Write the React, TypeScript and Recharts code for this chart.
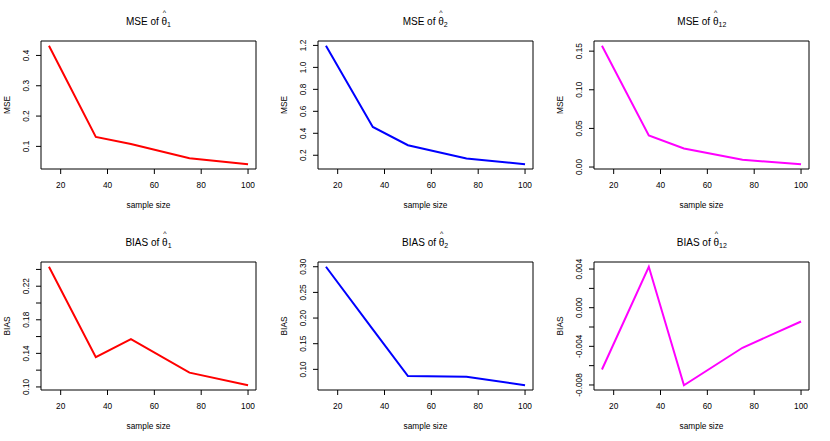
import React from 'react';
import { LineChart, Line, XAxis, YAxis, ReferenceArea } from 'recharts';

// sample sizes shared by all six panels
const sampleSize = [15, 35, 50, 75, 100];
const xTicks = [20, 40, 60, 80, 100];

const mseTheta1 = [0.432, 0.131, 0.108, 0.061, 0.041];
const mseTheta2 = [1.197, 0.458, 0.291, 0.17, 0.118];
const mseTheta12 = [0.157, 0.041, 0.024, 0.0093, 0.0036];
const biasTheta1 = [0.2432, 0.1355, 0.1569, 0.117, 0.102];
const biasTheta2 = [0.3, 0.178, 0.087, 0.0858, 0.069];
const biasTheta12 = [-0.0064, 0.00424, -0.00803, -0.00415, -0.00143];

const mseTheta1Ticks = [0.1, 0.2, 0.3, 0.4];
const mseTheta1Labels = ['0.1', '0.2', '0.3', '0.4'];
const mseTheta2Ticks = [0.2, 0.4, 0.6, 0.8, 1.0, 1.2];
const mseTheta2Labels = ['0.2', '0.4', '0.6', '0.8', '1.0', '1.2'];
const mseTheta12Ticks = [0, 0.05, 0.1, 0.15];
const mseTheta12Labels = ['0.00', '0.05', '0.10', '0.15'];
const biasTheta1Ticks = [0.1, 0.12, 0.14, 0.16, 0.18, 0.2, 0.22, 0.24];
const biasTheta1Labels = ['0.10', '', '0.14', '', '0.18', '', '0.22', ''];
const biasTheta2Ticks = [0.1, 0.15, 0.2, 0.25, 0.3];
const biasTheta2Labels = ['0.10', '0.15', '0.20', '0.25', '0.30'];
const biasTheta12Ticks = [-0.008, -0.006, -0.004, -0.002, 0, 0.002, 0.004];
const biasTheta12Labels = ['-0.008', '', '-0.004', '', '0.000', '', '0.004'];

const FONT = '"Liberation Sans", Arial, sans-serif';
const PANEL_W = 277;
const PANEL_H = 220;
const BOX = { left: 41, right: 256, top: 41, bottom: 169 };

interface PanelProps {
  measure: string;
  sub: string;
  values: number[];
  color: string;
  yTicks: number[];
  yLabels: string[];
  left: number;
  top: number;
}

function Panel({ measure, sub, values, color, yTicks, yLabels, left, top }: PanelProps) {
  const rows = sampleSize.map((n, i) => ({ n, v: values[i] }));
  const xMin = Math.min(...sampleSize);
  const xMax = Math.max(...sampleSize);
  const xPad = (xMax - xMin) * 0.04;
  const xDomain = [xMin - xPad, xMax + xPad];
  const yMin = Math.min(...values);
  const yMax = Math.max(...values);
  const yPad = (yMax - yMin) * 0.04;
  const yDomain = [yMin - yPad, yMax + yPad];

  // eslint-disable-next-line @typescript-eslint/no-explicit-any
  const xTick = (p: any) => (
    <text x={p.x} y={BOX.bottom + 15.5} textAnchor="middle" dominantBaseline="central"
      fontSize={8.3} fontFamily={FONT} fill="#000">
      {p.payload.value}
    </text>
  );

  // eslint-disable-next-line @typescript-eslint/no-explicit-any
  const yTick = (p: any) => {
    const idx = yTicks.findIndex((t) => Math.abs(t - p.payload.value) < 1e-9);
    const label = idx >= 0 ? yLabels[idx] : '';
    if (!label) return <g />;
    const x = BOX.left - 15;
    return (
      <text x={x} y={p.y} transform={`rotate(-90 ${x} ${p.y})`} textAnchor="middle"
        dominantBaseline="central" fontSize={8.3} fontFamily={FONT} fill="#000">
        {label}
      </text>
    );
  };

  const midX = (BOX.left + BOX.right) / 2;

  return (
    <div style={{ position: 'absolute', left, top, width: PANEL_W, height: PANEL_H }}>
      <LineChart width={PANEL_W} height={PANEL_H} data={rows}
        margin={{ top: BOX.top, right: PANEL_W - BOX.right, bottom: 0, left: 0 }}>
        <XAxis dataKey="n" type="number" domain={xDomain} ticks={xTicks} allowDataOverflow
          height={PANEL_H - BOX.bottom} axisLine={false} tickLine={{ stroke: '#000' }}
          tickSize={5} tick={xTick} interval={0} />
        <YAxis type="number" domain={yDomain} ticks={yTicks} allowDataOverflow
          width={BOX.left} axisLine={false} tickLine={{ stroke: '#000' }} tickSize={5}
          tick={yTick} interval={0} />
        <ReferenceArea x1={xDomain[0]} x2={xDomain[1]} y1={yDomain[0]} y2={yDomain[1]}
          fill="none" fillOpacity={0} stroke="#000" strokeWidth={1} strokeOpacity={1} />
        <Line type="linear" dataKey="v" stroke={color} strokeWidth={2} dot={false}
          isAnimationActive={false} />
      </LineChart>
      <div style={{
        position: 'absolute', left: BOX.left, width: BOX.right - BOX.left, top: 16,
        textAlign: 'center', fontFamily: FONT, fontSize: 10, lineHeight: '11px', color: '#000',
      }}>
        {measure} of{' '}
        <span style={{ position: 'relative', display: 'inline-block' }}>
          θ
          <span style={{
            position: 'absolute', left: 0, right: 0, top: -6, textAlign: 'center',
            fontSize: 7, lineHeight: '5px',
          }}>^</span>
        </span>
        <span style={{ fontSize: 7, position: 'relative', top: 2 }}>{sub}</span>
      </div>
      <svg width={PANEL_W} height={PANEL_H}
        style={{ position: 'absolute', left: 0, top: 0, pointerEvents: 'none' }}>
        <text x={midX} y={205} textAnchor="middle" dominantBaseline="central"
          fontSize={8.3} fontFamily={FONT} fill="#000">sample size</text>
        <text x={6.5} y={(BOX.top + BOX.bottom) / 2} transform={`rotate(-90 6.5 ${(BOX.top + BOX.bottom) / 2})`}
          textAnchor="middle" dominantBaseline="central" fontSize={8.3} fontFamily={FONT}
          fill="#000">{measure}</text>
      </svg>
    </div>
  );
}

export default function App() {
  const colW = 830 / 3;
  const rowH = 441 / 2;
  return (
    <div style={{ position: 'absolute', left: 0, top: 0, width: 830, height: 441, background: '#fff' }}>
      <Panel measure="MSE" sub="1" values={mseTheta1} color="#ff0000"
        yTicks={mseTheta1Ticks} yLabels={mseTheta1Labels} left={0} top={0} />
      <Panel measure="MSE" sub="2" values={mseTheta2} color="#0000ff"
        yTicks={mseTheta2Ticks} yLabels={mseTheta2Labels} left={colW} top={0} />
      <Panel measure="MSE" sub="12" values={mseTheta12} color="#ff00ff"
        yTicks={mseTheta12Ticks} yLabels={mseTheta12Labels} left={colW * 2} top={0} />
      <Panel measure="BIAS" sub="1" values={biasTheta1} color="#ff0000"
        yTicks={biasTheta1Ticks} yLabels={biasTheta1Labels} left={0} top={rowH} />
      <Panel measure="BIAS" sub="2" values={biasTheta2} color="#0000ff"
        yTicks={biasTheta2Ticks} yLabels={biasTheta2Labels} left={colW} top={rowH} />
      <Panel measure="BIAS" sub="12" values={biasTheta12} color="#ff00ff"
        yTicks={biasTheta12Ticks} yLabels={biasTheta12Labels} left={colW * 2} top={rowH} />
    </div>
  );
}
